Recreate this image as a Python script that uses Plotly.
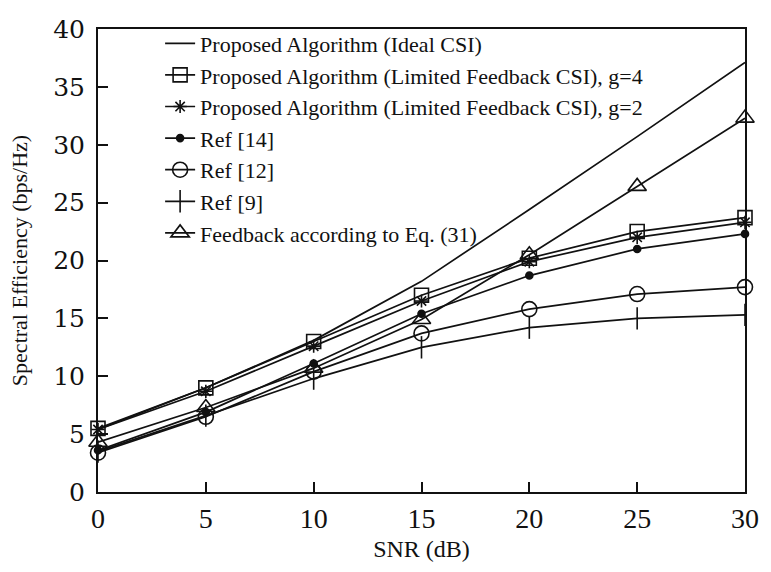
import plotly.graph_objects as go

# SNR grid (dB)
snr = [0, 5, 10, 15, 20, 25, 30]

# Spectral efficiency (bps/Hz) per scheme
ideal_csi = [5.4, 9.0, 13.1, 18.2, 24.4, 30.7, 37.1]
limited_g4 = [5.5, 9.0, 13.0, 17.0, 20.2, 22.5, 23.7]
limited_g2 = [5.4, 8.7, 12.6, 16.5, 19.9, 22.0, 23.3]
ref14 = [3.6, 6.9, 11.1, 15.4, 18.7, 21.0, 22.3]
ref12 = [3.4, 6.5, 10.4, 13.7, 15.8, 17.1, 17.7]
ref9 = [3.5, 6.6, 9.8, 12.5, 14.2, 15.0, 15.3]
eq31 = [4.3, 7.3, 10.7, 14.9, 20.5, 26.4, 32.3]

names = [
    "Proposed Algorithm (Ideal CSI)",
    "Proposed Algorithm (Limited Feedback CSI), g=4",
    "Proposed Algorithm (Limited Feedback CSI), g=2",
    "Ref [14]",
    "Ref [12]",
    "Ref [9]",
    "Feedback according to Eq. (31)",
]
series = [ideal_csi, limited_g4, limited_g2, ref14, ref12, ref9, eq31]
styles = [
    dict(mode="lines"),
    dict(mode="lines+markers", marker=dict(symbol="square-open", size=14)),
    dict(mode="lines+markers", marker=dict(symbol="asterisk-open", size=11)),
    dict(mode="lines+markers", marker=dict(symbol="circle", size=7)),
    dict(mode="lines+markers", marker=dict(symbol="circle-open", size=15)),
    dict(mode="lines+markers", marker=dict(symbol="line-ns-open", size=16)),
    dict(mode="lines+markers", marker=dict(symbol="triangle-up-open", size=16)),
]

INK = "#111111"
fig = go.Figure()
for i, (name, ys, st) in enumerate(zip(names, series, styles)):
    mk = st.get("marker", {})
    if mk:
        mk = dict(mk, color=INK, line=dict(color=INK, width=1.6))
    fig.add_trace(go.Scatter(
        x=snr, y=ys, name=name, mode=st["mode"],
        line=dict(color=INK, width=1.7),
        marker=mk if mk else None,
        legendgroup=f"g{i}", cliponaxis=False,
    ))

axis_common = dict(
    showgrid=False, zeroline=False, showline=True, linecolor=INK, linewidth=2,
    mirror=True, ticks="inside", ticklen=10, tickwidth=2, tickcolor=INK,
)

fig.update_layout(
    width=771, height=572,
    margin=dict(l=98, r=21, t=29, b=80),
    paper_bgcolor="white", plot_bgcolor="white",
    showlegend=True,
    legend=dict(
        x=0.096, y=1.014, xanchor="left", yanchor="top",
        bgcolor="rgba(0,0,0,0)", borderwidth=0,
        font=dict(family="Liberation Serif", size=22, color=INK),
        tracegroupgap=0, itemwidth=30,
    ),
    xaxis=dict(
        axis_common, range=[0, 30], tickvals=[0, 5, 10, 15, 20, 25, 30],
        tickfont=dict(family="Liberation Serif", size=28, color=INK),
        title=dict(text="SNR (dB)", standoff=8,
                   font=dict(family="Liberation Serif", size=24, color=INK)),
    ),
    yaxis=dict(
        axis_common, range=[0, 40], tickvals=[0, 5, 10, 15, 20, 25, 30, 35, 40],
        ticklabelstandoff=6,
        tickfont=dict(family="DejaVu Serif", size=25, color=INK),
        title=dict(text="Spectral Efficiency (bps/Hz)", standoff=19,
                   font=dict(family="Liberation Serif", size=22, color=INK)),
    ),
)

fig.write_html("out.html")
